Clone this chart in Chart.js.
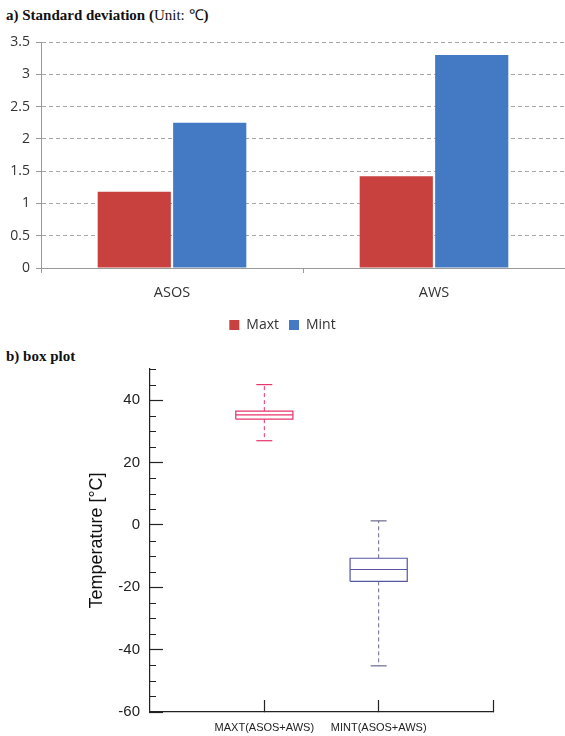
<!DOCTYPE html>
<html>
<head>
<meta charset="utf-8">
<script src="https://cdn.jsdelivr.net/npm/chart.js@4/dist/chart.umd.min.js"></script>
<style>
  body { margin: 0; background: #fff; }
  #page { position: relative; width: 565px; height: 736px; overflow: hidden; }
  .panel-title {
    position: absolute; left: 6px;
    font-family: "Liberation Serif", serif; font-size: 15px; color: #111;
    line-height: 20px; white-space: nowrap;
  }
  .panel-title b { font-weight: bold; }
  #sd-wrap { position: absolute; left: 0; top: 30px; width: 565px; height: 312px; }
  #box-wrap { position: absolute; left: 0; top: 362px; width: 565px; height: 374px; }
</style>
</head>
<body>
<div id="page">
  <div class="panel-title" style="top:5px;"><b>a) Standard deviation (</b>Unit: &#8451;<b>)</b></div>
  <div id="sd-wrap"><canvas id="sd-chart"></canvas></div>
  <div class="panel-title" style="top:346px;"><b>b) box plot</b></div>
  <div id="box-wrap"><canvas id="box-chart"></canvas></div>
</div>
<script>
// Data - panel a
const sdCategories = ["ASOS", "AWS"];
const sdMaxt = [1.18, 1.42];
const sdMint = [2.25, 3.3];
const sdTicks = [0, 0.5, 1, 1.5, 2, 2.5, 3, 3.5];

// Data - panel b (min, q1, median, q3, max)
const boxCategories = ["MAXT(ASOS+AWS)", "MINT(ASOS+AWS)"];
const boxMin = [27, -45.2];
const boxQ1 = [33.9, -18.1];
const boxMedian = [35.3, -14.3];
const boxQ3 = [36.5, -10.7];
const boxMax = [45, 1.3];
const boxTicks = [-60, -40, -20, 0, 20, 40];

// Styles
const colorMaxt = "#c8413f";
const colorMint = "#4479c4";
const boxColors = ["#e8336b", "#5656a2"];
const whiskerColors = ["#e8336b", "#6a6a8c"];
const boxHalfWidth = 0.25;
const capHalfWidth = 0.07;

// Panel a: bar chart
new Chart(document.getElementById("sd-chart"), {
  type: "bar",
  data: {
    labels: sdCategories,
    datasets: [
      { label: "Maxt", data: sdMaxt, backgroundColor: colorMaxt, borderWidth: 0 },
      { label: "Mint", data: sdMint, backgroundColor: colorMint, borderWidth: 0 },
    ],
  },
  options: {
    responsive: true,
    maintainAspectRatio: false,
    animation: false,
    datasets: { bar: { categoryPercentage: 0.576, barPercentage: 0.97 } },
    layout: { padding: { top: 12, right: 0, left: 0, bottom: 0 } },
    plugins: {
      tooltip: { enabled: false },
      legend: {
        position: "bottom",
        labels: {
          boxWidth: 10,
          boxHeight: 10,
          padding: 10,
          color: "#333",
          font: { family: "Open Sans", size: 14 },
        },
      },
    },
    scales: {
      x: {
        offset: true,
        afterFit: (scale) => { scale.height = 40; },
        grid: { display: true, offset: true, drawOnChartArea: false, tickLength: 5, color: "#999" },
        border: { color: "#999", width: 1 },
        ticks: { color: "#333", padding: 11, font: { family: "Open Sans", size: 14.5 } },
      },
      y: {
        min: 0,
        max: 3.5,
        afterFit: (scale) => {
          scale.width = 41;
          scale.paddingTop = 0;
        },
        afterBuildTicks: (scale) => { scale.ticks = sdTicks.map((v) => ({ value: v })); },
        grid: { color: "#a8a8a8", tickLength: 5, tickColor: "#999", tickBorderDash: [] },
        border: { color: "#999", width: 1, dash: [4, 3] },
        ticks: {
          color: "#333",
          padding: 6,
          font: { family: "Open Sans", size: 14 },
          callback: (v) => String(v),
        },
      },
    },
  },
});

// Panel b: box plot built from line segments
function seg(points, color, width, dash) {
  return {
    data: points,
    showLine: true,
    borderColor: color,
    borderWidth: width,
    borderDash: dash || [],
    pointRadius: 0,
    fill: false,
    tension: 0,
  };
}

const boxDatasets = [];
boxCategories.forEach((name, i) => {
  const pos = i + 1;
  const c = boxColors[i];
  const w = whiskerColors[i];
  boxDatasets.push(seg([
    { x: pos - boxHalfWidth, y: boxQ1[i] },
    { x: pos + boxHalfWidth, y: boxQ1[i] },
    { x: pos + boxHalfWidth, y: boxQ3[i] },
    { x: pos - boxHalfWidth, y: boxQ3[i] },
    { x: pos - boxHalfWidth, y: boxQ1[i] },
  ], c, 1.2));
  boxDatasets.push(seg([{ x: pos - boxHalfWidth, y: boxMedian[i] }, { x: pos + boxHalfWidth, y: boxMedian[i] }], c, 1.2));
  boxDatasets.push(seg([{ x: pos, y: boxQ3[i] }, { x: pos, y: boxMax[i] }], w, 1, [4, 3]));
  boxDatasets.push(seg([{ x: pos, y: boxQ1[i] }, { x: pos, y: boxMin[i] }], w, 1, [4, 3]));
  boxDatasets.push(seg([{ x: pos - capHalfWidth, y: boxMax[i] }, { x: pos + capHalfWidth, y: boxMax[i] }], w, 1.2));
  boxDatasets.push(seg([{ x: pos - capHalfWidth, y: boxMin[i] }, { x: pos + capHalfWidth, y: boxMin[i] }], w, 1.2));
});

// minor ticks every 5 on the temperature axis
const minorTicks = {
  id: "minorTicks",
  afterDraw(chart) {
    const y = chart.scales.y;
    const ctx = chart.ctx;
    ctx.save();
    ctx.strokeStyle = "#222";
    ctx.lineWidth = 1;
    for (let v = y.min; v <= y.max; v += 5) {
      if (v % 20 === 0) continue;
      const py = Math.round(y.getPixelForValue(v)) + 0.5;
      ctx.beginPath();
      ctx.moveTo(y.right, py);
      ctx.lineTo(y.right + 6, py);
      ctx.stroke();
    }
    ctx.restore();
  },
};

new Chart(document.getElementById("box-chart"), {
  type: "scatter",
  data: { datasets: boxDatasets },
  plugins: [minorTicks],
  options: {
    responsive: true,
    maintainAspectRatio: false,
    animation: false,
    layout: { padding: { top: 7, right: 72, left: 0, bottom: 0 } },
    plugins: { legend: { display: false }, tooltip: { enabled: false } },
    scales: {
      x: {
        type: "linear",
        min: 0,
        max: 3,
        afterFit: (scale) => {
          scale.height = 24;
          scale.paddingLeft = 0;
          scale.paddingRight = 0;
        },
        afterBuildTicks: (scale) => { scale.ticks = [1, 2, 3].map((v) => ({ value: v })); },
        grid: { drawOnChartArea: false, tickLength: -12, tickColor: "#222", tickWidth: 1.2 },
        border: { color: "#222", width: 1.2 },
        ticks: {
          autoSkip: false,
          maxRotation: 0,
          padding: 21,
          color: "#222",
          font: { family: "Liberation Sans", size: 11 },
          callback: (v) => boxCategories[v - 1] || "",
        },
      },
      y: {
        min: -60,
        max: 50,
        afterFit: (scale) => {
          scale.width = 150;
          scale.paddingTop = 0;
          scale.paddingBottom = 0;
        },
        afterBuildTicks: (scale) => { scale.ticks = boxTicks.map((v) => ({ value: v })); },
        grid: { drawOnChartArea: false, tickLength: -13, tickColor: "#222", tickWidth: 1.2 },
        border: { color: "#222", width: 1.2 },
        ticks: { padding: 23, color: "#222", font: { family: "Liberation Sans", size: 15 } },
        title: {
          display: true,
          text: "Temperature [°C]",
          color: "#111",
          font: { family: "Liberation Sans", size: 18 },
          padding: { top: 86, bottom: 0 },
        },
      },
    },
  },
});
</script>
</body>
</html>
